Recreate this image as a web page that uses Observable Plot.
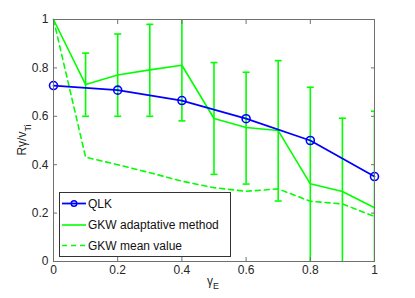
<!DOCTYPE html>
<html><head><meta charset="utf-8">
<script src="https://cdn.jsdelivr.net/npm/d3@7"></script>
<script src="https://cdn.jsdelivr.net/npm/@observablehq/plot@0.6"></script>
<style>
body{margin:0;background:#fff}
#chart{position:relative;width:415px;height:298px}
</style>
</head><body><div id="chart"></div>
<script>
// QLK
const qlkX = [0, 0.2, 0.4, 0.6, 0.8, 1];
const qlkY = [0.727, 0.708, 0.665, 0.59, 0.5, 0.351];
// GKW
const gkwX = [0, 0.1, 0.2, 0.3, 0.4, 0.5, 0.6, 0.7, 0.8, 0.9, 1];
const gkwAdapt = [1.0, 0.731, 0.771, 0.792, 0.811, 0.591, 0.554, 0.541, 0.321, 0.289, 0.222];
const gkwMean = [1.0, 0.431, 0.40, 0.367, 0.332, 0.305, 0.29, 0.30, 0.249, 0.238, 0.186];
const errX = [0.1, 0.2, 0.3, 0.4, 0.5, 0.6, 0.7, 0.8, 0.9, 1];
const errLow = [0.6, 0.6, 0.6, 0.581, 0.36, 0.32, 0.25, -0.1, -0.1, -0.1];
const errHigh = [0.861, 0.94, 0.98, 1.05, 0.822, 0.782, 0.83, 0.72, 0.592, 0.621];
const ticks = [0, 0.2, 0.4, 0.6, 0.8, 1];
const legendLabels = ["QLK", "GKW adaptative method", "GKW mean value"];

const qlk = qlkX.map((x, i) => ({x, y: qlkY[i]}));
const adapt = gkwX.map((x, i) => ({x, y: gkwAdapt[i]}));
const mean = gkwX.map((x, i) => ({x, y: gkwMean[i]}));
const err = errX.map((x, i) => ({x, lo: errLow[i], hi: errHigh[i]}));

const BLUE = "#0000ff", GREEN = "#00ff00", AX = "#707070";
const fmt = d => (d === 0 || d === 1) ? String(d) : d.toFixed(1);
const cap = {draw(ctx) { ctx.moveTo(-3.5, 0); ctx.lineTo(3.5, 0); }};
const FONT = "Liberation Sans, Arial, Helvetica, sans-serif";

const plot = Plot.plot({
  width: 415, height: 298,
  marginLeft: 53, marginRight: 41, marginTop: 19, marginBottom: 37,
  x: {domain: [0, 1]},
  y: {domain: [0, 1]},
  style: {fontFamily: FONT, fontSize: "12px", color: "#262626", background: "white"},
  marks: [
    Plot.ruleX(err, {x: "x", y1: "lo", y2: "hi", stroke: GREEN, strokeWidth: 1.6, clip: "frame"}),
    Plot.dot(err, {x: "x", y: "lo", symbol: cap, fill: "none", stroke: GREEN, strokeWidth: 1.6, clip: "frame"}),
    Plot.dot(err, {x: "x", y: "hi", symbol: cap, fill: "none", stroke: GREEN, strokeWidth: 1.6, clip: "frame"}),
    Plot.line(mean, {x: "x", y: "y", stroke: GREEN, strokeWidth: 1.6, strokeDasharray: "5,4"}),
    Plot.line(adapt, {x: "x", y: "y", stroke: GREEN, strokeWidth: 1.6}),
    Plot.line(qlk, {x: "x", y: "y", stroke: BLUE, strokeWidth: 1.8}),
    Plot.dot(qlk, {x: "x", y: "y", r: 4, stroke: BLUE, strokeWidth: 1.6, fill: "none"}),
    Plot.frame({stroke: AX, strokeWidth: 1}),
    Plot.axisX(ticks, {anchor: "bottom", tickSize: -4, tickFormat: () => "", stroke: AX, label: null}),
    Plot.axisX(ticks, {anchor: "top", tickSize: -4, tickFormat: () => "", stroke: AX, label: null}),
    Plot.axisY(ticks, {anchor: "left", tickSize: -4, tickFormat: () => "", stroke: AX, label: null}),
    Plot.axisY(ticks, {anchor: "right", tickSize: -4, tickFormat: () => "", stroke: AX, label: null}),
    Plot.axisX(ticks, {anchor: "bottom", tickSize: 0, tickPadding: 4, tickFormat: fmt, label: null, fontSize: 12}),
    Plot.axisY(ticks, {anchor: "left", tickSize: 0, tickPadding: 5, tickFormat: fmt, label: null, fontSize: 12})
  ]
});
document.getElementById("chart").appendChild(plot);

const svg = d3.select(plot);
// axis labels
const yl = svg.append("text")
  .attr("transform", "translate(26,140) rotate(-90)")
  .attr("text-anchor", "middle")
  .attr("font-family", FONT).attr("font-size", 12).attr("fill", "#262626");
yl.append("tspan").text("Rγ/v");
yl.append("tspan").attr("dy", 4.5).attr("font-size", 9).text("Ti");

const xl = svg.append("text")
  .attr("x", 207).attr("y", 285).attr("text-anchor", "start")
  .attr("font-family", FONT).attr("font-size", 12).attr("fill", "#262626");
xl.append("tspan").text("γ");
xl.append("tspan").attr("dy", 4).attr("font-size", 9).text("E");

// legend
const lg = svg.append("g").attr("text-anchor", "start");
lg.append("rect").attr("x", 59.5).attr("y", 192.5).attr("width", 171).attr("height", 64)
  .attr("fill", "white").attr("stroke", "#333").attr("stroke-width", 1);
const rowsY = [203.5, 225, 245.5];
lg.append("line").attr("x1", 62).attr("x2", 86).attr("y1", rowsY[0]).attr("y2", rowsY[0])
  .attr("stroke", BLUE).attr("stroke-width", 1.8);
lg.append("circle").attr("cx", 74).attr("cy", rowsY[0]).attr("r", 2.8)
  .attr("stroke", BLUE).attr("stroke-width", 1.5).attr("fill", "none");
lg.append("line").attr("x1", 62).attr("x2", 86).attr("y1", rowsY[1]).attr("y2", rowsY[1])
  .attr("stroke", GREEN).attr("stroke-width", 1.6);
lg.append("line").attr("x1", 62).attr("x2", 86).attr("y1", rowsY[2]).attr("y2", rowsY[2])
  .attr("stroke", GREEN).attr("stroke-width", 1.6).attr("stroke-dasharray", "5,4");
legendLabels.forEach((t, i) => {
  lg.append("text").attr("x", 88).attr("y", rowsY[i]).attr("dy", "0.35em")
    .attr("text-anchor", "start")
    .attr("font-family", FONT).attr("font-size", 12).attr("fill", "#111").text(t);
});
</script>
</body></html>
